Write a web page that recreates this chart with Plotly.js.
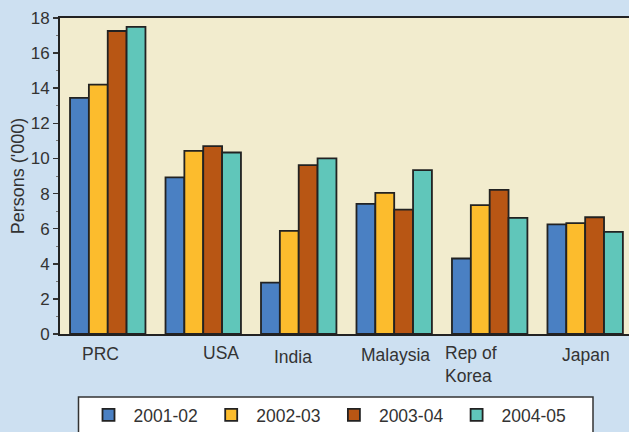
<!DOCTYPE html>
<html>
<head>
<meta charset="utf-8">
<script src="https://cdn.plot.ly/plotly-3.0.1.min.js"></script>
<style>
  html, body { margin: 0; padding: 0; background: #cde0f1; overflow: hidden; }
  #frame { width: 629px; height: 432px; overflow: hidden; }
  #chart { width: 629px; height: 445px; }
</style>
</head>
<body>
<div id="frame"><div id="chart"></div></div>
<script>
// Source-country arrivals, persons ('000), by financial year
const countries = ["PRC", "USA", "India", "Malaysia", "Rep of Korea", "Japan"];
const countryLabels = ["PRC", "USA", "India", "Malaysia", "Rep of<br>Korea", "Japan"];
const years = ["2001-02", "2002-03", "2003-04", "2004-05"];

const v2001 = [13.45, 8.92, 2.93, 7.41, 4.30, 6.24];
const v2002 = [14.20, 10.43, 5.87, 8.04, 7.34, 6.31];
const v2003 = [17.26, 10.70, 9.62, 7.09, 8.21, 6.65];
const v2004 = [17.50, 10.34, 10.00, 9.33, 6.61, 5.82];

const yTicks = [0, 2, 4, 6, 8, 10, 12, 14, 16, 18];

const seriesValues = [v2001, v2002, v2003, v2004];
const colors = ["#4a80c3", "#fcbc2d", "#b85614", "#60c6ba"];

const FONT = "'Liberation Sans', Arial, sans-serif";
const INK = "#333333";

// Chart is drawn slightly taller than the visible frame so the legend box
// runs off the lower edge.
const H = 445;
const W = 629;
const M_LEFT = 60;
const PLOT_TOP = 18, PLOT_BOTTOM = 334;
const plotW = W - M_LEFT;
const plotH = PLOT_BOTTOM - PLOT_TOP;

// pixel helpers for paper-referenced layout pieces
const px = (x) => (x - M_LEFT) / plotW;
const py = (y) => (PLOT_BOTTOM - y) / plotH;

const traces = seriesValues.map((vals, i) => ({
  type: "bar",
  name: years[i],
  x: countries,
  y: vals,
  marker: { color: colors[i], line: { color: "#222222", width: 1.8 } },
  hoverinfo: "x+y+name"
}));

// Category labels sit under each group with individual nudges
const labelShift = [
  { dx: -7, dy: -19.5, anchor: "center" },
  { dx: 18, dy: -19, anchor: "center" },
  { dx: -6, dy: -23, anchor: "center" },
  { dx: 1, dy: -21, anchor: "center" },
  { dx: -46.5, dy: -30, anchor: "left" },
  { dx: 1, dy: -21, anchor: "center" }
];

const annotations = countries.map((c, i) => ({
  xref: "x", yref: "paper",
  x: c, y: 0,
  xanchor: labelShift[i].anchor, yanchor: "middle",
  xshift: labelShift[i].dx, yshift: labelShift[i].dy,
  text: countryLabels[i],
  showarrow: false,
  align: "left",
  font: { family: FONT, size: 17.5, color: INK }
}));

// White framed panel behind the legend entries
const legendPanel = {
  type: "rect",
  xref: "paper", yref: "paper",
  x0: px(78.5), x1: px(593),
  y0: py(397), y1: py(460),
  fillcolor: "#ffffff",
  line: { color: "#333333", width: 1.5 },
  layer: "above"
};

const layout = {
  width: W,
  height: H,
  margin: { l: M_LEFT, r: 0, t: PLOT_TOP, b: H - PLOT_BOTTOM },
  paper_bgcolor: "#cde0f1",
  plot_bgcolor: "#f2ecce",
  barmode: "group",
  bargap: 0.21,
  bargroupgap: 0,
  showlegend: true,
  font: { family: FONT, color: INK },
  xaxis: {
    type: "category",
    range: [-0.5, 5.459],
    showticklabels: false,
    ticks: "",
    showgrid: false,
    zeroline: false,
    showline: true,
    mirror: true,
    linecolor: "#222222",
    linewidth: 2,
    fixedrange: true
  },
  yaxis: {
    range: [0, 18],
    tickvals: yTicks,
    ticktext: yTicks.map(String),
    ticks: "outside",
    ticklen: 5,
    tickwidth: 1.5,
    tickcolor: "#333333",
    minor: { dtick: 1, tick0: 0, ticks: "outside", ticklen: 2.5, tickwidth: 1, tickcolor: "#777777", showgrid: false },
    tickfont: { family: FONT, size: 17, color: INK },
    showgrid: false,
    zeroline: false,
    showline: true,
    linecolor: "#222222",
    linewidth: 2,
    title: { text: "Persons ('000)", font: { family: FONT, size: 18, color: INK }, standoff: 1 },
    fixedrange: true
  },
  legend: {
    orientation: "h",
    x: px(78), xanchor: "left",
    y: py(397), yanchor: "top",
    bgcolor: "rgba(0,0,0,0)",
    borderwidth: 0,
    font: { family: FONT, size: 17.5, color: INK },
    itemwidth: 40,
    indentation: 5.5,
    entrywidth: 62.2,
    entrywidthmode: "pixels",
    traceorder: "normal"
  },
  shapes: [legendPanel],
  annotations: annotations
};

Plotly.newPlot("chart", traces, layout, { displayModeBar: false, staticPlot: true });
</script>
</body>
</html>
